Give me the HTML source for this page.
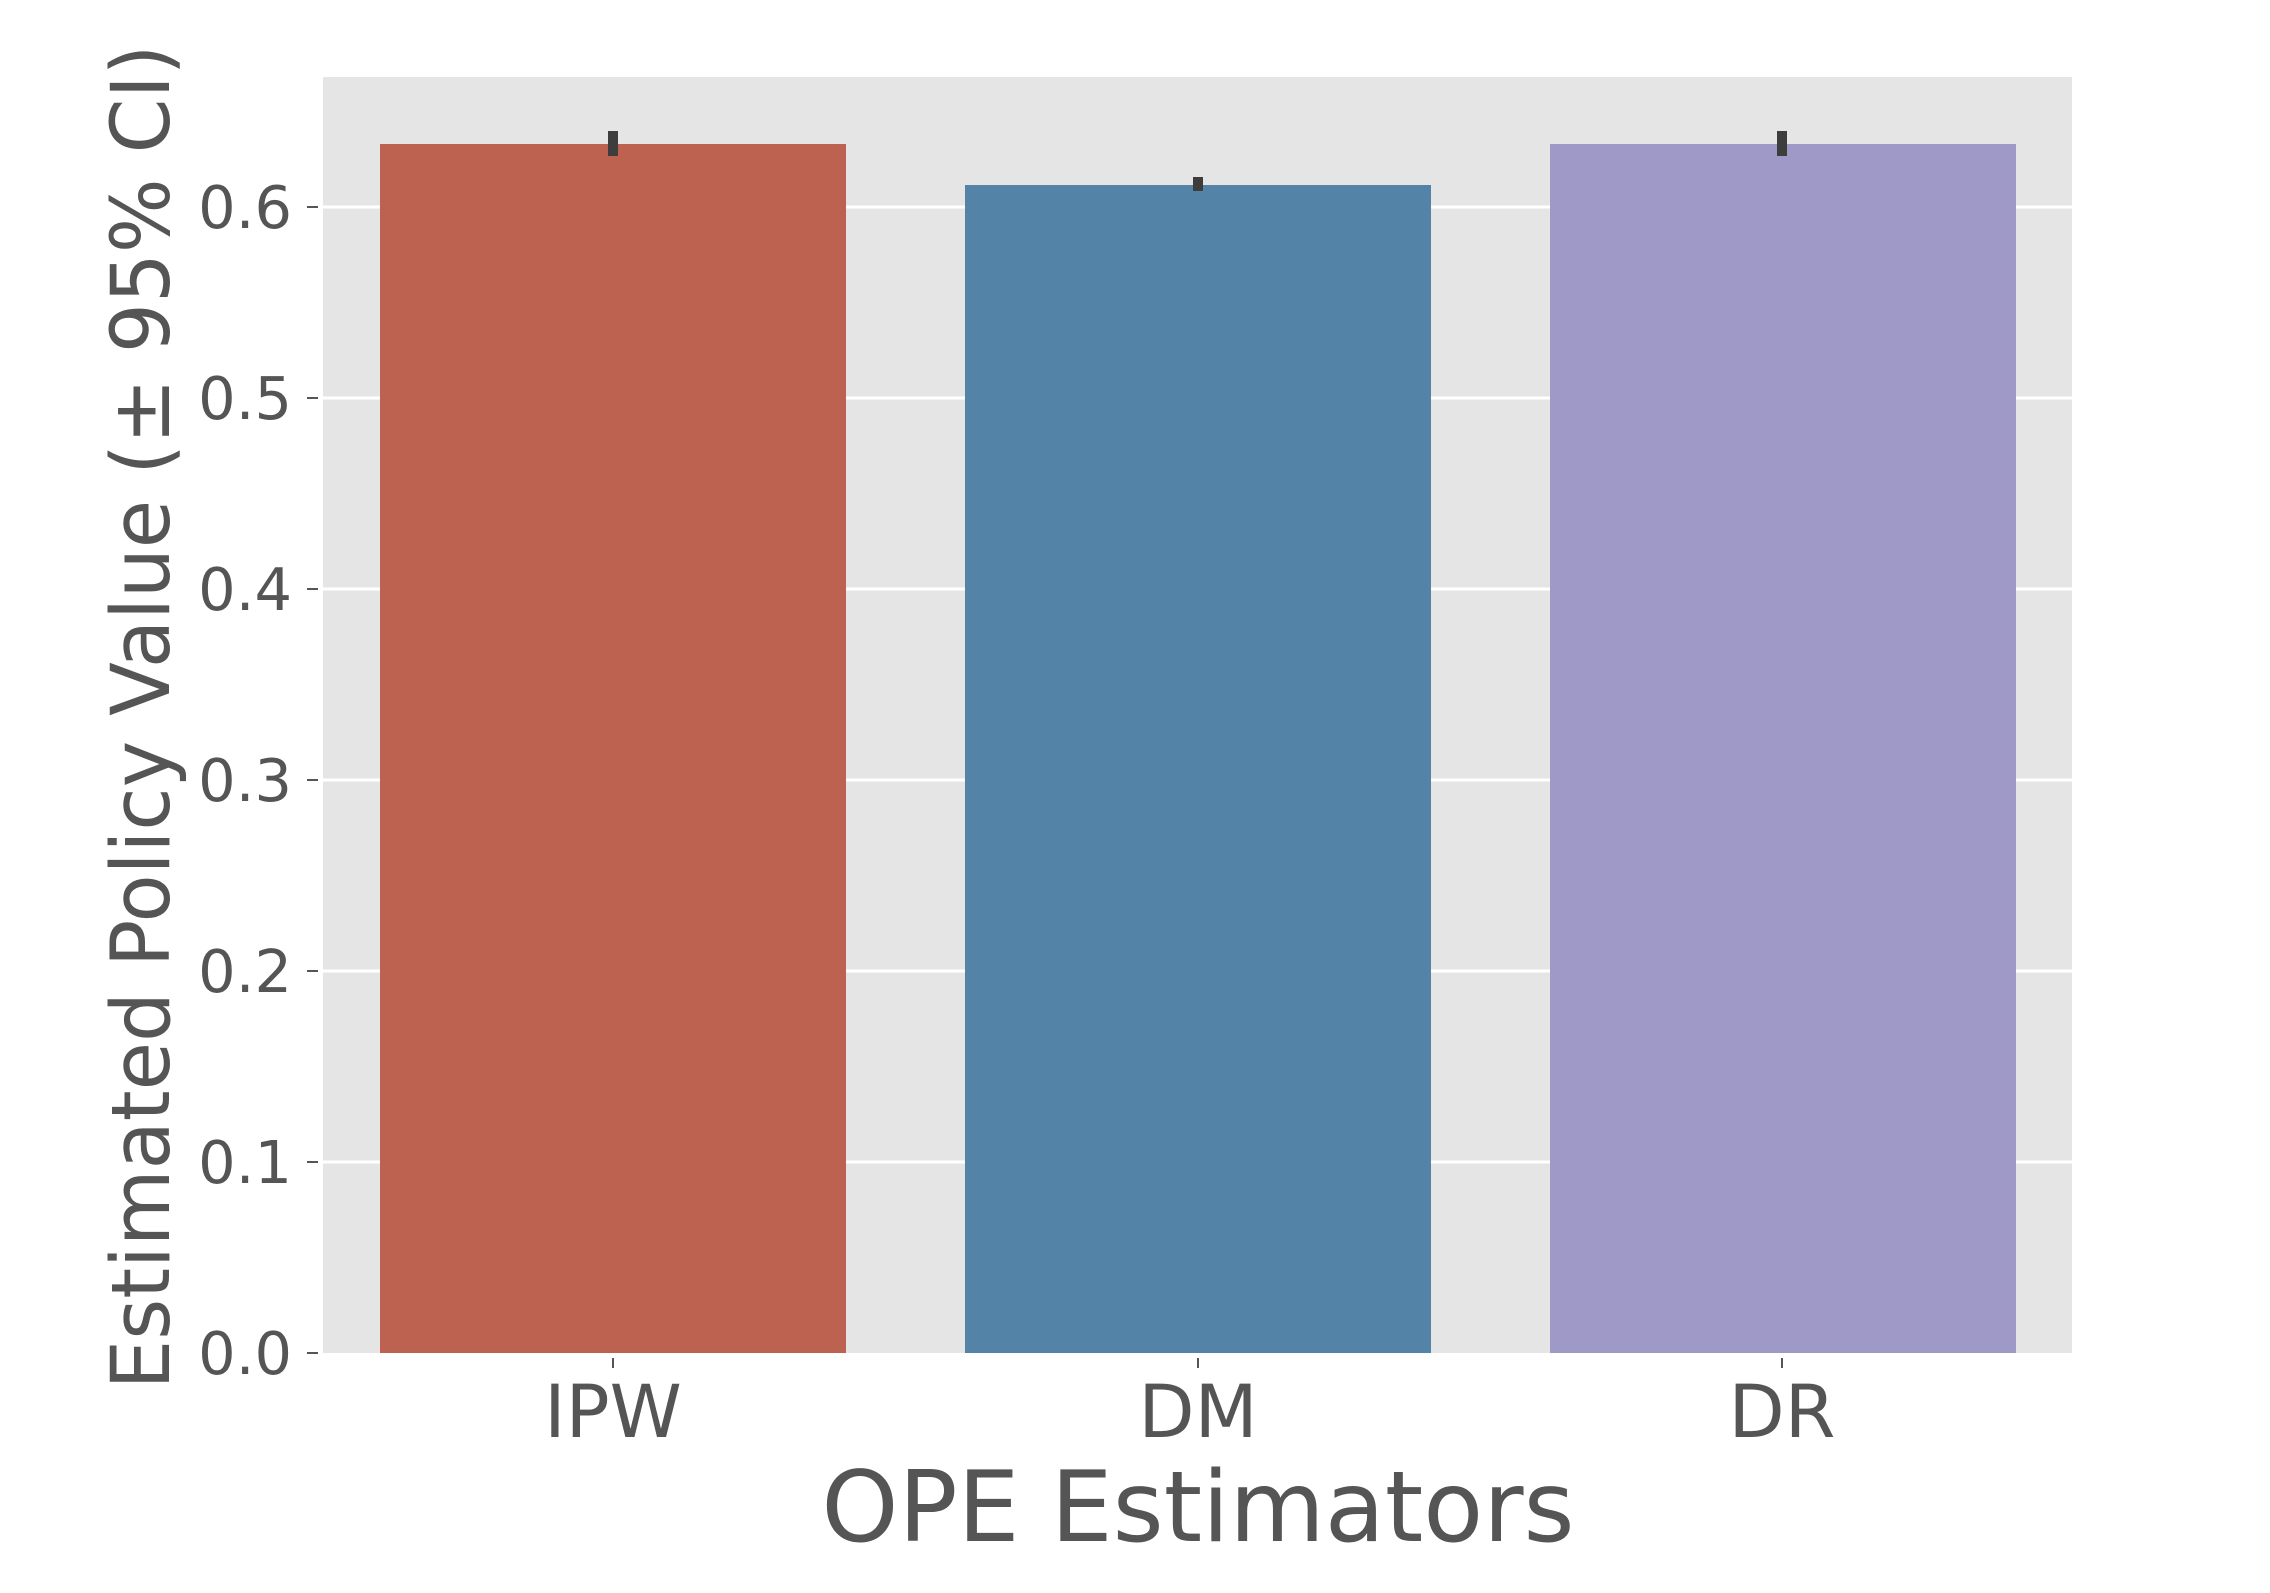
<!DOCTYPE html>
<html><head><meta charset="utf-8"><style>body{margin:0;background:#fff}svg{display:block}</style></head>
<body>
<svg width="2270" height="1593" xmlns="http://www.w3.org/2000/svg" font-family="DejaVu Sans, Liberation Sans, sans-serif" fill="#555">
<rect x="323" y="77" width="1749" height="1276" fill="#e5e5e5"/>
<g stroke="#fff" stroke-width="3">
<line x1="323" x2="2072" y1="1162" y2="1162"/>
<line x1="323" x2="2072" y1="971" y2="971"/>
<line x1="323" x2="2072" y1="780" y2="780"/>
<line x1="323" x2="2072" y1="589" y2="589"/>
<line x1="323" x2="2072" y1="398" y2="398"/>
<line x1="323" x2="2072" y1="207" y2="207"/>
</g>
<rect x="380" y="144" width="466" height="1209" fill="#bd6150"/>
<rect x="965" y="185" width="466" height="1168" fill="#5483a8"/>
<rect x="1550" y="144" width="466" height="1209" fill="#9e99c7"/>
<g stroke="#3d3d3d" stroke-width="10">
<line x1="613" x2="613" y1="131" y2="156"/>
<line x1="1198" x2="1198" y1="177" y2="191"/>
<line x1="1782" x2="1782" y1="131" y2="156"/>
</g>
<g stroke="#555" stroke-width="2">
<line x1="307" x2="318" y1="1353" y2="1353"/>
<line x1="307" x2="318" y1="1162" y2="1162"/>
<line x1="307" x2="318" y1="971" y2="971"/>
<line x1="307" x2="318" y1="780" y2="780"/>
<line x1="307" x2="318" y1="589" y2="589"/>
<line x1="307" x2="318" y1="398" y2="398"/>
<line x1="307" x2="318" y1="207" y2="207"/>
<line x1="613" x2="613" y1="1358" y2="1368"/>
<line x1="1198" x2="1198" y1="1358" y2="1368"/>
<line x1="1782" x2="1782" y1="1358" y2="1368"/>
</g>
<g font-size="59" text-anchor="end">
<text x="292" y="1374">0.0</text>
<text x="292" y="1183">0.1</text>
<text x="292" y="992">0.2</text>
<text x="292" y="801">0.3</text>
<text x="292" y="610">0.4</text>
<text x="292" y="419">0.5</text>
<text x="292" y="228">0.6</text>
</g>
<g font-size="73" text-anchor="middle">
<text x="613" y="1437">IPW</text>
<text x="1198" y="1437">DM</text>
<text x="1782" y="1437">DR</text>
</g>
<text x="1198" y="1541" font-size="98" text-anchor="middle">OPE Estimators</text>
<text transform="translate(169,717) rotate(-90)" font-size="81" text-anchor="middle" textLength="1345" lengthAdjust="spacingAndGlyphs">Estimated Policy Value (± 95% CI)</text>
</svg>
</body></html>
